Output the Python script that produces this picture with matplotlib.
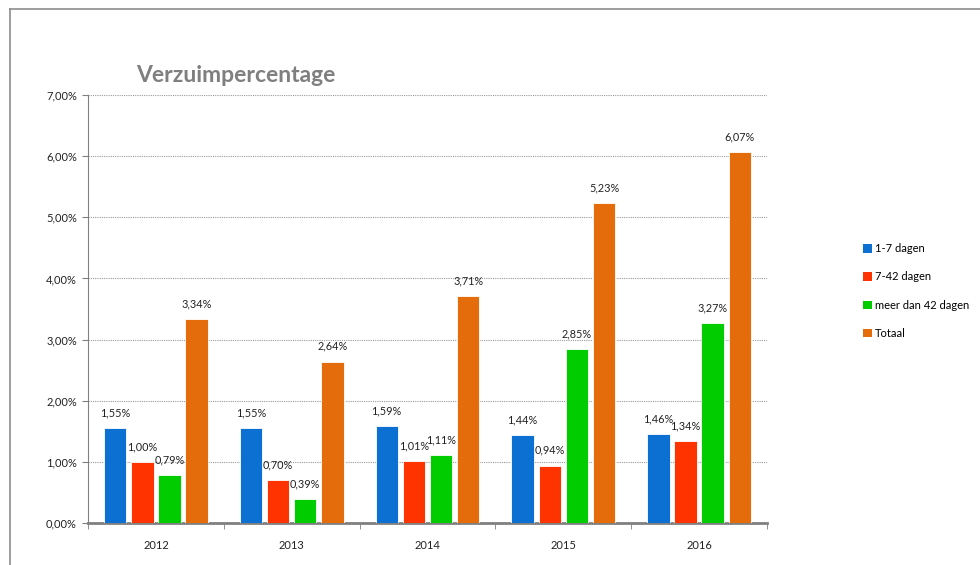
import matplotlib
matplotlib.use("Agg")
import matplotlib.pyplot as plt
import numpy as np
from matplotlib.lines import Line2D
from matplotlib.patches import Patch

years = ["2012", "2013", "2014", "2015", "2016"]
series_names = ["1-7 dagen", "7-42 dagen", "meer dan 42 dagen", "Totaal"]
kort = [1.55, 1.55, 1.59, 1.44, 1.46]
middel = [1.00, 0.70, 1.01, 0.94, 1.34]
lang = [0.79, 0.39, 1.11, 2.85, 3.27]
totaal = [3.34, 2.64, 3.71, 5.23, 6.07]
colors = ["#0B70D2", "#FF3300", "#00CC00", "#E46C0A"]
yticks = [0, 1, 2, 3, 4, 5, 6, 7]

plt.rcParams['font.family'] = ['Lato', 'DejaVu Sans']

fig = plt.figure(figsize=(9.8, 5.65), dpi=100)
ax = fig.add_axes([88/980, 1-523/565, (767-88)/980, (523-95)/565])

x = np.arange(len(years))
step = 0.2
width = 0.165
data = [kort, middel, lang, totaal]
for i, (vals, c) in enumerate(zip(data, colors)):
    pos = x + (i - 1.5) * step
    ax.bar(pos, vals, width=width, color=c, edgecolor="white", linewidth=0.6, zorder=3)
    for p, v in zip(pos, vals):
        ax.annotate(f"{v:.2f}%".replace(".", ","), (p, v), xytext=(0, 7),
                    textcoords="offset points", ha="center", va="bottom",
                    fontsize=7.8, color="#222222")

ax.set_xlim(-0.5, len(years) - 0.5)
ax.set_ylim(0, 7)
ax.set_yticks(yticks)
ax.set_yticklabels([f"{t:.2f}%".replace(".", ",") for t in yticks], fontsize=8, color="#222222")
ax.set_xticks(x)
ax.set_xticklabels(years, fontsize=8, color="#222222")
ax.set_xticks(np.arange(len(years) + 1) - 0.5, minor=True)
ax.tick_params(axis="x", which="major", length=0, pad=12)
ax.tick_params(axis="x", which="minor", length=4, color="#808080", direction="out")
ax.tick_params(axis="y", length=4, color="#808080", direction="out", pad=4)

ax.grid(axis="y", color="#999999", linestyle=(0, (1, 1)), linewidth=0.8, zorder=0)
for s in ["top", "right"]:
    ax.spines[s].set_visible(False)
ax.spines["left"].set_color("#808080")
ax.spines["bottom"].set_color("#808080")
ax.spines["bottom"].set_linewidth(2)

fig.text(136/980, 1-75/565, "Verzuimpercentage", fontsize=16.5, fontweight="bold",
         color="#7F7F7F", ha="left", va="center")

handles = [Patch(facecolor=c, edgecolor="none") for c in colors]
leg = fig.legend(handles, series_names, loc="center left",
                 bbox_to_anchor=(853/980, 1-291/565), frameon=False,
                 fontsize=8, handlelength=0.8, handleheight=0.8,
                 handletextpad=0.3, labelspacing=1.55)

fig.add_artist(Line2D([10/980, 10/980], [0, 1-9/565], transform=fig.transFigure,
                      color="#8C8C8C", linewidth=1.2))
fig.add_artist(Line2D([10/980, 1], [1-9/565, 1-9/565], transform=fig.transFigure,
                      color="#8C8C8C", linewidth=1.2))

fig.savefig("out.png", dpi=100)
